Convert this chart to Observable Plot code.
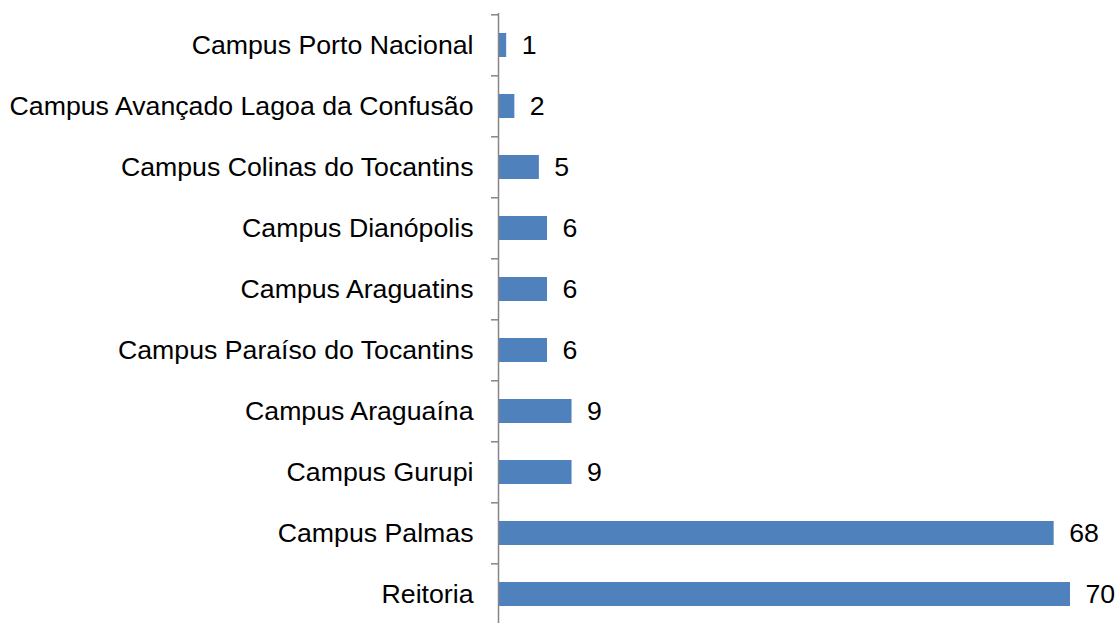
<!DOCTYPE html>
<html>
<head>
<meta charset="utf-8">
<script src="https://cdn.jsdelivr.net/npm/d3@7"></script>
<script src="https://cdn.jsdelivr.net/npm/@observablehq/plot@0.6"></script>
<style>
  html, body { margin: 0; padding: 0; background: #fff; }
  #chart svg { display: block; }
</style>
</head>
<body>
<div id="chart"></div>
<script>
const categories = [
  "Campus Porto Nacional",
  "Campus Avançado Lagoa da Confusão",
  "Campus Colinas do Tocantins",
  "Campus Dianópolis",
  "Campus Araguatins",
  "Campus Paraíso do Tocantins",
  "Campus Araguaína",
  "Campus Gurupi",
  "Campus Palmas",
  "Reitoria"
];
const values = [1, 2, 5, 6, 6, 6, 9, 9, 68, 70];

const data = categories.map((c, i) => ({category: c, value: values[i]}));

const W = 1117, H = 623;
const marginTop = 13, marginBottom = -4;
const bandStep = (H - marginTop - marginBottom) / categories.length;
const FS = 26.7;

const chart = Plot.plot({
  width: W,
  height: H,
  marginLeft: 498,
  marginRight: 47,
  marginTop,
  marginBottom,
  style: {fontFamily: "'Liberation Sans', Arial, sans-serif", fontSize: FS + "px", color: "#000", background: "#fff"},
  x: {domain: [0, 70], axis: null},
  y: {domain: categories, paddingInner: 0.6, paddingOuter: 0.3, align: 0.5, label: null},
  marks: [
    Plot.barX(data, {x: "value", y: "category", fill: "#4F81BD"}),
    Plot.text(data, {x: "value", y: "category", text: d => String(d.value), textAnchor: "start", dx: 15, fontSize: FS, fill: "#000"}),
    Plot.axisY({tickSize: 0, tickPadding: 25, fontSize: FS, fill: "#000", label: null}),
    Plot.axisY({text: null, tickSize: 7, dy: -bandStep / 2, stroke: "#868686", strokeWidth: 1.5, label: null}),
    Plot.ruleX([0], {stroke: "#868686", strokeWidth: 1.5})
  ]
});
document.getElementById("chart").appendChild(chart);
</script>
</body>
</html>
